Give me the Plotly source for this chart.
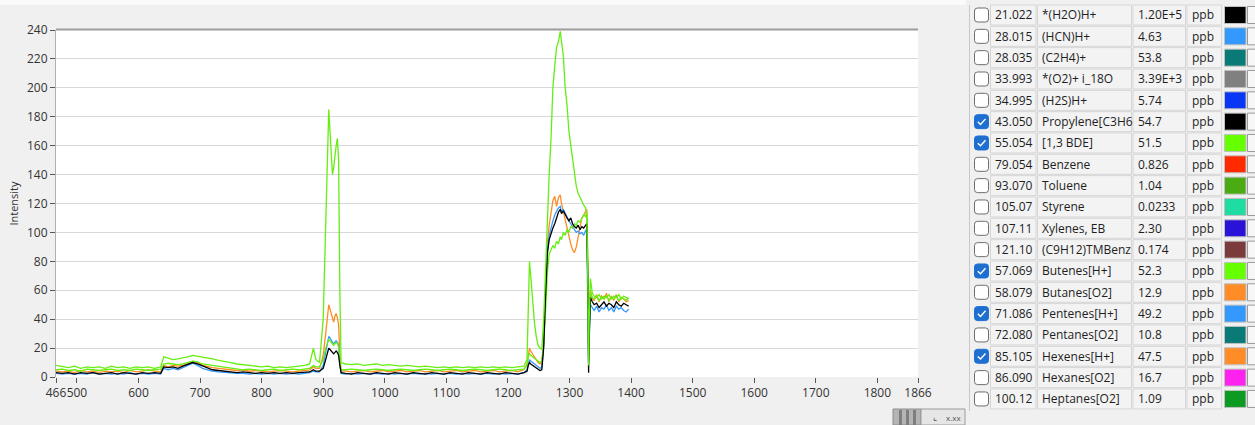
import plotly.graph_objects as go

# ---------------- data ----------------
time_s = [466, 476, 486, 496, 506, 516, 526, 536, 546, 556, 566, 576, 586, 596, 606, 616, 626, 636,
          641, 648, 656, 664, 672, 680, 688, 696, 704, 712, 720, 730, 740, 750, 760, 770, 780, 790, 800,
          810, 820, 830, 840, 850, 860, 870, 878,
          884, 888, 894, 900, 904, 907, 909, 911, 913, 915, 917, 919, 921, 923, 925, 927, 929,
          936, 946, 956, 966, 976, 986, 996, 1006, 1016, 1026, 1036, 1046, 1056, 1066, 1076, 1086, 1096,
          1106, 1116, 1126, 1136, 1146, 1156, 1166, 1176, 1186, 1196, 1206, 1216, 1226,
          1231, 1233, 1235, 1237, 1240, 1243, 1246, 1249, 1252, 1255, 1258, 1261, 1264, 1267,
          1270, 1273, 1276, 1279, 1282, 1285, 1287, 1290, 1293, 1296, 1299, 1302, 1305, 1308, 1311,
          1314, 1317, 1320, 1323, 1326, 1328, 1330, 1331, 1332, 1334, 1337,
          1340, 1344, 1348, 1352, 1356, 1360, 1364, 1368, 1372, 1376, 1380, 1384, 1388, 1392, 1396]

propylene = [3, 2.5, 3, 2, 3, 2.5, 3, 2, 2.5, 3, 2, 3, 2.5, 2, 3, 2.5, 3, 2.5,
             7, 6.5, 7, 6, 7.5, 8.5, 10, 9, 7.5, 6, 5, 4.5, 4, 3.5, 3, 3.5, 3, 2.5, 3, 2.5, 3, 2.5, 3, 2.5, 3, 3, 3.5,
             5, 4, 4, 6, 12, 17, 20, 19, 18, 17, 16, 17, 18, 17, 15, 8, 3,
             2.5, 2, 3, 2.5, 2, 3, 2.5, 2, 3, 2.5, 2, 3, 2.5, 2, 3, 2.5, 2, 3, 2.5, 2, 3, 2.5, 2, 3, 2.5, 2, 3, 2.5, 2, 3,
             4, 8, 10, 9, 8, 7, 6, 5, 4.5, 5, 20, 55, 85, 95,
             100, 103, 106, 110, 114, 116, 113, 115, 112, 110, 108, 110, 106, 104, 103, 105, 102, 104, 103, 105, 106,
             60, 3, 30, 55, 52, 50, 51, 48, 50, 52, 49, 51, 50, 48, 52, 50, 49, 51, 50, 49]

bde = [8, 7, 6.5, 7.5, 6, 7, 6.5, 7, 6, 7.5, 6.5, 7, 6, 7, 6.5, 7, 6, 7,
       14, 13, 12, 12.5, 13, 14, 15, 14.5, 13.5, 13, 12.5, 11.5, 11, 10, 9, 8.5, 8, 7.5, 7, 7.5, 6.5, 7, 6.5, 7, 7.5, 8, 9,
       20, 12, 10, 40, 110, 165, 185, 170, 150, 140, 145, 155, 160, 165, 150, 60, 10,
       9, 8.5, 9, 8, 8.5, 9, 8, 8.5, 8, 7.5, 8, 7.5, 7, 7.5, 7, 6.5, 7, 6.5, 7, 6.5, 7, 6.5, 7, 6.5, 7, 6.5, 7, 6.5, 7, 7.5,
       12, 60, 80, 70, 52, 38, 28, 22, 20, 19, 40, 75, 105, 140,
       165, 200, 215, 228, 232, 239, 232, 222, 200, 188, 170, 160, 148, 140, 132, 127, 124, 121, 119, 117, 113,
       60, 8, 40, 68, 58, 56, 55, 57, 54, 56, 55, 57, 54, 56, 55, 57, 54, 56, 55, 54]

butenes = [5, 5.5, 4.5, 5, 4, 5.5, 5, 4.5, 5, 5.5, 4.5, 5, 4.5, 5.5, 5, 4.5, 5, 5.5,
           9, 9.5, 9, 8.5, 9, 10, 11, 10.5, 9, 8.5, 8, 7, 6.5, 6, 5.5, 5, 5.5, 5, 4.5, 5, 5.5, 4.5, 5, 5.5, 5, 5.5, 6,
           8, 7, 7, 12, 20, 24, 26, 25, 24, 23, 22, 23, 24, 23, 21, 12, 5,
           5, 5.5, 5, 4.5, 5, 5.5, 5, 4.5, 5, 5.5, 5, 4.5, 5, 5.5, 5, 4.5, 5, 5.5, 5, 4.5, 5, 5.5, 5, 4.5, 5, 5.5, 5, 4.5, 5, 5.5,
           8, 14, 16, 15, 14, 13, 12, 11, 10, 11, 22, 45, 72, 85,
           88, 91, 89, 94, 92, 97, 95, 100, 98, 102, 100, 104, 103, 106, 105, 108, 107, 110, 112, 111, 114,
           80, 12, 35, 58, 55, 54, 56, 53, 55, 54, 56, 53, 55, 54, 56, 53, 55, 54, 53, 55]

pentenes = [2.5, 2, 2.5, 2, 2.5, 2, 3, 2, 2.5, 2, 2.5, 2, 3, 2, 2.5, 2, 2.5, 2,
            6, 5, 6, 5, 6.5, 8, 9.5, 8, 6, 5, 4, 3.5, 3, 3, 2.5, 2.5, 2, 2.5, 2, 2.5, 2, 2.5, 2, 2.5, 2, 2.5, 3,
            4, 3.5, 3.5, 8, 17, 24, 28, 27, 25, 24, 23, 24, 25, 24, 22, 10, 2.5,
            2, 2.5, 2, 2.5, 2, 2.5, 2, 2.5, 2, 2.5, 2, 2.5, 2, 2.5, 2, 2.5, 2, 2.5, 2, 2.5, 2, 2.5, 2, 2.5, 2, 2.5, 2, 2.5, 2, 3,
            5, 10, 12, 11, 10, 9, 8, 7, 6, 6.5, 22, 58, 88, 98,
            104, 108, 112, 115, 117, 118, 114, 116, 113, 110, 108, 106, 104, 102, 100, 101, 99, 100, 98, 101, 102,
            40, 10, 25, 50, 48, 46, 49, 45, 48, 47, 50, 46, 48, 45, 49, 47, 48, 46, 45, 47]

hexenes = [4, 3.5, 4, 3, 4.5, 3.5, 4, 3, 4, 3.5, 4, 3, 4.5, 3.5, 4, 5, 4, 3.5,
           8, 7, 8, 7.5, 8, 9, 11, 10, 8, 7, 6.5, 6, 5.5, 5, 4.5, 5, 4, 4.5, 4, 3.5, 4, 4.5, 4, 3.5, 4, 4.5, 5,
           7, 6, 6, 15, 30, 42, 50, 47, 44, 40, 38, 42, 44, 41, 36, 15, 4,
           4, 3.5, 4, 4.5, 3.5, 4, 4.5, 3.5, 4, 4.5, 3.5, 4, 4.5, 3.5, 4, 4.5, 3.5, 4, 4.5, 3.5, 4, 4.5, 3.5, 4, 4.5, 3.5, 4, 4.5, 3.5, 5,
           9, 16, 20, 18, 16, 14, 12, 10, 9, 10, 24, 62, 92, 105,
           115, 122, 125, 118, 124, 126, 120, 114, 108, 102, 96, 92, 88, 86, 90, 96, 104, 110, 112, 114, 116,
           70, 14, 40, 60, 54, 53, 57, 52, 56, 54, 58, 52, 56, 53, 57, 52, 55, 54, 52, 53]

x_ticks = [466, 500, 600, 700, 800, 900, 1000, 1100, 1200, 1300, 1400, 1500, 1600, 1700, 1800, 1866]
y_ticks = [0, 20, 40, 60, 80, 100, 120, 140, 160, 180, 200, 220, 240]

masses = ["21.022", "28.015", "28.035", "33.993", "34.995", "43.050", "55.054", "79.054", "93.070",
          "105.07", "107.11", "121.10", "57.069", "58.079", "71.086", "72.080", "85.105", "86.090", "100.12"]
names = ["*(H2O)H+", "(HCN)H+", "(C2H4)+", "*(O2)+ i_18O", "(H2S)H+", "Propylene[C3H6", "[1,3 BDE]",
         "Benzene", "Toluene", "Styrene", "Xylenes, EB", "(C9H12)TMBenz", "Butenes[H+]", "Butanes[O2]",
         "Pentenes[H+]", "Pentanes[O2]", "Hexenes[H+]", "Hexanes[O2]", "Heptanes[O2]"]
concs = ["1.20E+5", "4.63", "53.8", "3.39E+3", "5.74", "54.7", "51.5", "0.826", "1.04", "0.0233",
         "2.30", "0.174", "52.3", "12.9", "49.2", "10.8", "47.5", "16.7", "1.09"]
units = ["ppb"] * 19
swatches = ["#000000", "#3399ff", "#0a7a76", "#808080", "#0a36f5", "#000000", "#66ff00", "#ff2a00",
            "#4aab12", "#1fdca2", "#2b12d8", "#7b3b3b", "#66ff00", "#ff8c26", "#3399ff", "#0a7a76",
            "#ff8c26", "#ff22ee", "#0c9a22"]
checked = [False, False, False, False, False, True, True, False, False, False, False, False,
           True, False, True, False, True, False, False]

# ---------------- geometry ----------------
W, H = 1255, 425
PL, PR, PT, PB = 56, 918, 30, 377
FONT = "Open Sans"


def fx(p):
    return (p - PL) / (PR - PL)


def fy(p):
    return (PB - p) / (PB - PT)


def rect(x0, y0, x1, y1, fill, line=None, lw=1):
    return dict(type="rect", xref="paper", yref="paper", x0=fx(x0), x1=fx(x1), y0=fy(y1), y1=fy(y0),
                fillcolor=fill, line=dict(color=line or fill, width=lw if line else 0), layer="above")


def rrect(x0, y0, x1, y1, r, fill, line, lw=1):
    pts = (f"M{fx(x0 + r)},{fy(y0)} L{fx(x1 - r)},{fy(y0)} Q{fx(x1)},{fy(y0)} {fx(x1)},{fy(y0 + r)} "
           f"L{fx(x1)},{fy(y1 - r)} Q{fx(x1)},{fy(y1)} {fx(x1 - r)},{fy(y1)} "
           f"L{fx(x0 + r)},{fy(y1)} Q{fx(x0)},{fy(y1)} {fx(x0)},{fy(y1 - r)} "
           f"L{fx(x0)},{fy(y0 + r)} Q{fx(x0)},{fy(y0)} {fx(x0 + r)},{fy(y0)} Z")
    return dict(type="path", xref="paper", yref="paper", path=pts, fillcolor=fill,
                line=dict(color=line, width=lw), layer="above")


fig = go.Figure()

series = [("Hexenes[H+]", hexenes, "#ff8c26"),
          ("Pentenes[H+]", pentenes, "#3399ff"),
          ("Butenes[H+]", butenes, "#66ee11"),
          ("Propylene[C3H6]", propylene, "#000000"),
          ("[1,3 BDE]", bde, "#66ee11")]
for nm, ys, col in series:
    fig.add_trace(go.Scatter(x=time_s, y=ys, mode="lines", name=nm,
                             line=dict(color=col, width=1.3), showlegend=False))

shapes = []
annotations = []

# white strip along very top + plot frame top line
shapes.append(rect(0, 0, 966, 5, "#fafafa"))
shapes.append(dict(type="line", xref="paper", yref="paper", x0=fx(PL), x1=fx(PR), y0=fy(29.5), y1=fy(29.5),
                   line=dict(color="#9c9c9c", width=2), layer="above"))

# table panel
shapes.append(dict(type="line", xref="paper", yref="paper", x0=fx(969.5), x1=fx(969.5), y0=fy(5), y1=fy(411),
                   line=dict(color="#c8c8c8", width=1), layer="above"))
cols = [(990.5, 1036), (1037.5, 1131.5), (1133, 1185.5), (1187, 1221.5)]
row0, rowh = 15.0, 21.33
for i in range(19):
    yc = row0 + i * rowh
    y0, y1 = yc - 10, yc + 10
    for (c0, c1) in cols:
        shapes.append(rect(c0, y0, c1, y1, "#f3f3f3", "#d6d6d6", 1))
    # swatch
    shapes.append(rect(1224.5, yc - 8.5, 1246, yc + 8.5, swatches[i], "#c0c0c0", 1))
    # spinner box
    shapes.append(rect(1247.5, yc - 8.5, 1256, yc + 8.5, "#f7f7f7", "#9a9a9a", 1))
    # checkbox
    if checked[i]:
        shapes.append(rrect(974.5, yc - 7, 988.5, yc + 7, 3, "#1f6fd1", "#1f6fd1", 1))
        shapes.append(dict(type="path", xref="paper", yref="paper",
                           path=f"M{fx(977.8)},{fy(yc + 0.2)} L{fx(980.5)},{fy(yc + 2.8)} L{fx(985.5)},{fy(yc - 2.8)}",
                           line=dict(color="white", width=1.4), layer="above"))
    else:
        shapes.append(rrect(974.5, yc - 7, 988.5, yc + 7, 3, "#ffffff", "#6e6e6e", 1))
    for txt, xl in ((masses[i], 993), (names[i], 1040), (concs[i], 1136), (units[i], 1189.5)):
        annotations.append(dict(text=txt, xref="paper", yref="paper", x=fx(xl), y=fy(yc),
                                xanchor="left", yanchor="middle", showarrow=False,
                                font=dict(family=FONT, size=12, color="#1e1e1e")))

# tiny graph-palette toolbar
shapes.append(rect(893, 409, 921, 425, "#b4b4b4", "#8c8c8c", 1))
for bx in (899, 906, 913):
    shapes.append(rect(bx, 410, bx + 3, 425, "#7e7e7e"))
shapes.append(rect(921, 409, 965, 425, "#e6e6e6", "#9c9c9c", 1))
annotations.append(dict(text="x.xx", xref="paper", yref="paper", x=fx(953), y=fy(417),
                        xanchor="center", yanchor="middle", showarrow=False,
                        font=dict(family=FONT, size=8, color="#555555")))
annotations.append(dict(text="⌞", xref="paper", yref="paper", x=fx(935), y=fy(416),
                        xanchor="center", yanchor="middle", showarrow=False,
                        font=dict(family=FONT, size=9, color="#444444")))

fig.update_layout(
    width=W, height=H,
    margin=dict(l=PL, r=W - PR, t=PT, b=H - PB, autoexpand=False),
    paper_bgcolor="#f0f0f0", plot_bgcolor="#ffffff",
    font=dict(family=FONT, size=12, color="#333333"),
    shapes=shapes, annotations=annotations,
    xaxis=dict(range=[466, 1866], tickmode="array", tickvals=x_ticks, ticktext=[str(v) for v in x_ticks],
               tickangle=0, showgrid=False, zeroline=False, ticks="outside", ticklen=5, tickcolor="#555555",
               tickfont=dict(family=FONT, size=12, color="#333333"), showline=False, automargin=False),
    yaxis=dict(range=[0, 240], tickmode="array", tickvals=y_ticks, showgrid=True, gridcolor="#d8d8d8",
               gridwidth=1, zeroline=False, ticks="outside", ticklen=5, tickcolor="#555555",
               showline=True, linecolor="#b0b0b0", linewidth=1,
               tickfont=dict(family=FONT, size=12, color="#333333"), automargin=False,
               title=dict(text="Intensity", font=dict(family=FONT, size=11, color="#333333"), standoff=6)),
)

fig.write_html("out.html", config={"displayModeBar": False},
               post_script="document.body.style.margin='0';document.body.style.background='#f0f0f0';")
